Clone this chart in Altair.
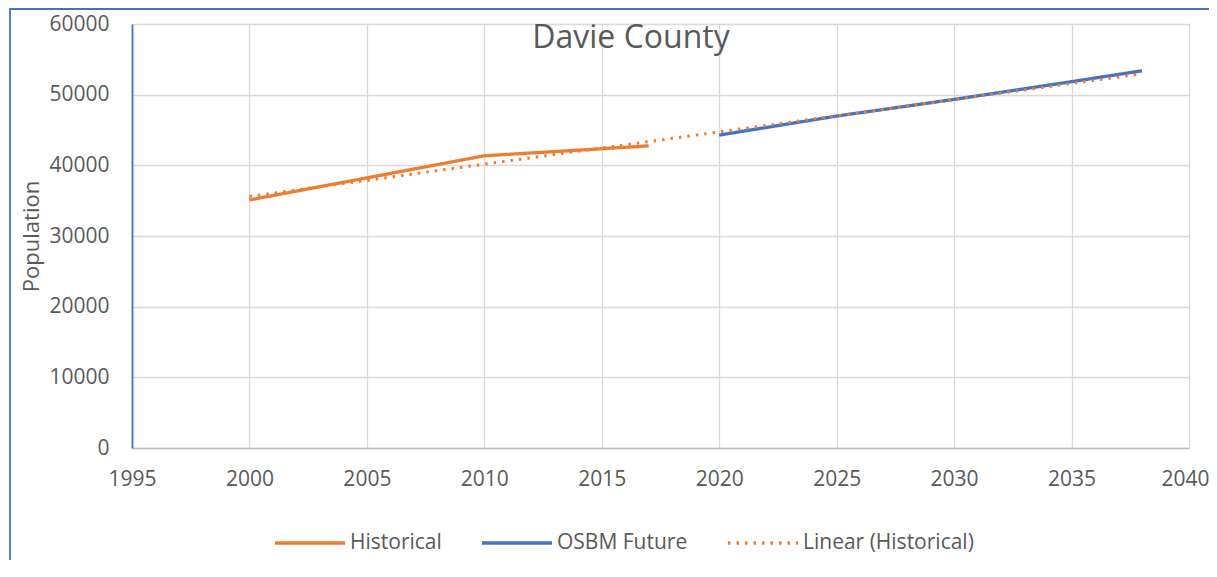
import altair as alt
import pandas as pd

# ---- data ----
hist_years = [2000, 2010, 2015, 2017]
hist_pop = [35100, 41350, 42350, 42760]
osbm_years = [2020, 2025, 2030, 2035, 2038]
osbm_pop = [44280, 46970, 49330, 51840, 53380]
trend_years = [2000, 2038]
trend_pop = [35600, 52950]
series_names = ["Historical", "OSBM Future", "Linear (Historical)"]
x_ticks = [1995, 2000, 2005, 2010, 2015, 2020, 2025, 2030, 2035, 2040]
y_ticks = [0, 10000, 20000, 30000, 40000, 50000, 60000]
chart_title = ["Davie County"]

rows = []
for name, yrs, pops in zip(series_names, [hist_years, osbm_years, trend_years],
                           [hist_pop, osbm_pop, trend_pop]):
    for yr, p in zip(yrs, pops):
        rows.append({"series": name, "year": yr, "pop": p})
df = pd.DataFrame(rows)

W, H = 1057, 424
ORANGE = "#ED7D31"
BLUE = "#4472C4"
TXT = "#595959"
GRID = "#D9D9D9"
FONT = "Open Sans"

x = alt.X("year:Q",
          scale=alt.Scale(domain=[1995, 2040], nice=False, zero=False),
          axis=alt.Axis(values=x_ticks, format="d", title=None, grid=True,
                        gridColor=GRID, gridWidth=1.3, domainColor="#BFBFBF",
                        domainWidth=1.5, ticks=False, labelPadding=20,
                        labelFlush=False, labelOverlap=False,
                        labelOffset={"condition": {"test": "datum.value >= 2040",
                                                   "value": -4},
                                     "value": 0},
                        labelFontSize=21, labelColor=TXT, labelFont=FONT))
y = alt.Y("pop:Q",
          scale=alt.Scale(domain=[0, 60000], nice=False),
          axis=alt.Axis(values=y_ticks, format="d", title="Population",
                        titleX=-94, titleY=H / 2, titleAngle=-90,
                        titleAlign="center", titleBaseline="alphabetic",
                        titleFontSize=22, titleFont=FONT, titleColor=TXT,
                        titleFontWeight="normal",
                        grid=True, gridColor=GRID, gridWidth=1.3,
                        domainColor=BLUE, domainWidth=1.8, ticks=False,
                        labelFlush=False, labelOverlap=False,
                        labelPadding=23, labelFontSize=21, labelColor=TXT,
                        labelFont=FONT))

def make_legend():
    return alt.Legend(title=None, orient="none", legendX=141, legendY=482,
                      direction="horizontal", symbolType="stroke",
                      symbolSize=4900, symbolStrokeWidth=3.5,
                      labelFontSize=21, labelFont=FONT, labelColor=TXT,
                      labelLimit=0, labelOffset=3, columnPadding=33, padding=0)

color = alt.Color("series:N",
                  scale=alt.Scale(domain=series_names, range=[ORANGE, BLUE, ORANGE]),
                  legend=make_legend())
dash = alt.StrokeDash("series:N",
                      scale=alt.Scale(domain=series_names,
                                      range=[[1, 0], [1, 0], [2.5, 6]]),
                      legend=make_legend())

base = alt.Chart(df).encode(x=x, y=y, color=color, strokeDash=dash)

solid = base.transform_filter(
    alt.FieldOneOfPredicate(field="series", oneOf=series_names[:2])
).mark_line(strokeWidth=3.3)
dotted = base.transform_filter(
    alt.FieldEqualPredicate(field="series", equal=series_names[2])
).mark_line(strokeWidth=3)

frame = alt.Chart(pd.DataFrame({"k": [0]})).mark_rect(
    fillOpacity=0, stroke=BLUE, strokeWidth=1.8
).encode(x=alt.value(-122), x2=alt.value(W + 200),
         y=alt.value(-15), y2=alt.value(H + 300))

title = alt.Chart(pd.DataFrame({"t": chart_title})).mark_text(
    fontSize=32, font=FONT, color=TXT, baseline="alphabetic", align="center"
).encode(x=alt.value(499), y=alt.value(24), text="t:N")

chart = alt.layer(frame, solid, dotted, title).properties(
    width=W, height=H, autosize="none",
    padding={"left": 124, "top": 16, "right": 20, "bottom": 112},
    background="white",
).configure_view(stroke=None)

chart.save("out.html", embed_options={"renderer": "svg", "actions": False})
